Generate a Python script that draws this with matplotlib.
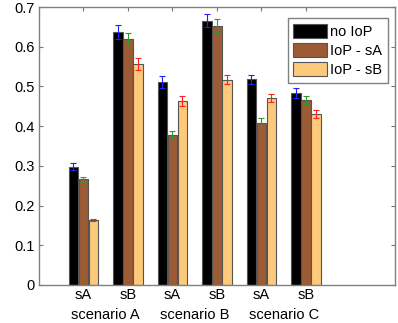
import numpy as np
import matplotlib.pyplot as plt

plt.rcParams['font.family'] = ['Liberation Sans', 'DejaVu Sans']

ticks = ['sA', 'sB', 'sA', 'sB', 'sA', 'sB']
scenarios = ['scenario A', 'scenario B', 'scenario C']
series = ['no IoP', 'IoP - sA', 'IoP - sB']

no_iop = [0.298, 0.638, 0.512, 0.666, 0.518, 0.484]
iop_sa = [0.266, 0.619, 0.378, 0.653, 0.409, 0.466]
iop_sb = [0.164, 0.556, 0.463, 0.517, 0.471, 0.431]

err_no = [0.009, 0.018, 0.015, 0.016, 0.011, 0.013]
err_sa = [0.007, 0.015, 0.011, 0.016, 0.011, 0.011]
err_sb = [0.003, 0.015, 0.013, 0.011, 0.009, 0.010]

colors = ['#000000', '#9c5a35', '#fdc97b']
err_colors = ['#2020ff', '#2e9a2e', '#ff2020']

fig = plt.figure(figsize=(3.98, 3.23), dpi=100)
ax = fig.add_axes([0.098, 0.118, 0.894, 0.86])

x = np.arange(1, len(ticks) + 1)
w = 0.215
step = 0.225
for i, (vals, errs) in enumerate([(no_iop, err_no), (iop_sa, err_sa), (iop_sb, err_sb)]):
    pos = x + (i - 1) * step
    ax.bar(pos, vals, width=w, color=colors[i], edgecolor='#555555',
           linewidth=0.8, label=series[i], zorder=2)
    ax.errorbar(pos, vals, yerr=errs, fmt='none', ecolor=err_colors[i],
                elinewidth=0.8, capsize=2.5, capthick=0.8, zorder=3)

ax.set_xlim(0, 8)
ax.set_ylim(0, 0.7)
ax.set_xticks(x)
ax.set_xticklabels(ticks, fontsize=10.5)
ax.set_yticks(np.arange(0, 0.71, 0.1))
ax.set_yticklabels(['0', '0.1', '0.2', '0.3', '0.4', '0.5', '0.6', '0.7'], fontsize=10.5)
ax.tick_params(direction='in', top=True, right=True, length=3, color='#777777', pad=3)
ax.tick_params(axis='x', pad=2)
for s in ax.spines.values():
    s.set_color('#808080')
    s.set_linewidth(1.0)

# group names under the tick pairs
for k, name in enumerate(scenarios):
    ax.text(1.5 + 2 * k, -0.077, name, ha='center', va='center', fontsize=10.5)

leg = ax.legend(loc='upper right', bbox_to_anchor=(0.98, 0.96), fontsize=10.5,
                fancybox=False, framealpha=1, edgecolor='#808080',
                handlelength=2.3, handleheight=1.05, handletextpad=0.2,
                labelspacing=0.3, borderpad=0.4, borderaxespad=0)
leg.get_frame().set_linewidth(1.0)

plt.savefig('out.png', dpi=100)
